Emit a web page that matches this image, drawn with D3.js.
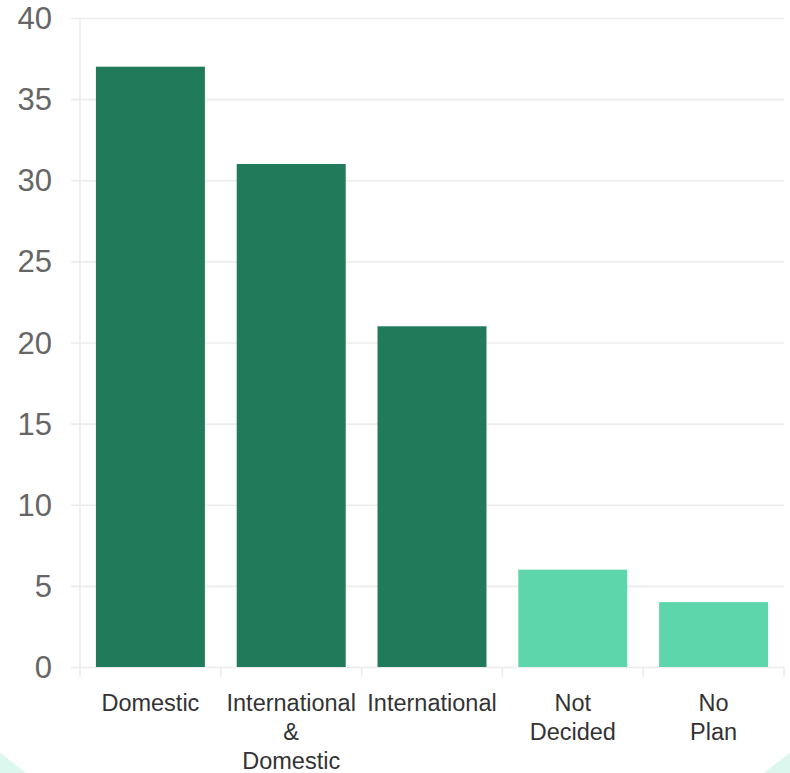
<!DOCTYPE html>
<html>
<head>
<meta charset="utf-8">
<script src="https://cdn.jsdelivr.net/npm/d3@7"></script>
<style>
  html, body { margin: 0; padding: 0; background: #ffffff; }
  svg { display: block; }
</style>
</head>
<body>
<script>
// Travel plans survey: number of respondents per plan type
const categories = ["Domestic", "International & Domestic", "International", "Not Decided", "No Plan"];
const labelLines = [["Domestic"], ["International", "&", "Domestic"], ["International"], ["Not", "Decided"], ["No", "Plan"]];
const values = [37, 31, 21, 6, 4];
const barColors = ["#217a5a", "#217a5a", "#217a5a", "#5cd6aa", "#5cd6aa"];
const yTicks = [0, 5, 10, 15, 20, 25, 30, 35, 40];

const W = 790, H = 773;
const plotLeft = 80, plotRight = 784, plotTop = 18, plotBottom = 667;

const svg = d3.select("body").append("svg")
  .attr("width", W).attr("height", H);

// page backdrop: mint corners behind a large white disc
svg.append("rect").attr("width", W).attr("height", H).attr("fill", "#dcf7ee");
svg.append("circle").attr("cx", 395).attr("cy", 272).attr("r", 622).attr("fill", "#ffffff");

const x = d3.scaleBand()
  .domain(categories)
  .range([plotLeft, plotRight])
  .paddingInner(0.226)
  .paddingOuter(0.113);

const y = d3.scaleLinear().domain([0, 40]).range([plotBottom, plotTop]);

const gridColor = "#ececec";

// horizontal grid lines with short tick stubs on the left
const yAxis = d3.axisLeft(y)
  .tickValues(yTicks)
  .tickSize(0)
  .tickPadding(19)
  .tickFormat(d3.format("d"));

const gy = svg.append("g")
  .attr("transform", `translate(${plotLeft - 9},0)`)
  .call(yAxis);
gy.select(".domain").remove();
gy.selectAll(".tick line")
  .attr("x1", 0)
  .attr("x2", plotRight - plotLeft + 9)
  .attr("stroke", gridColor)
  .attr("stroke-width", 1.6);
gy.selectAll(".tick text")
  .attr("fill", "#666666")
  .attr("font-family", "Arial, 'Liberation Sans', sans-serif")
  .attr("font-size", 31)
  .attr("x", -19)
  .attr("dy", "0.34em");

// vertical axis line
svg.append("line")
  .attr("x1", plotLeft).attr("x2", plotLeft)
  .attr("y1", plotTop).attr("y2", plotBottom + 10)
  .attr("stroke", gridColor).attr("stroke-width", 1.6);

// category boundary ticks below the baseline
const step = x.step();
const boundaries = d3.range(categories.length + 1).map(i => plotLeft + i * step);
svg.append("g").selectAll("line")
  .data(boundaries.slice(1))
  .join("line")
  .attr("x1", d => d).attr("x2", d => d)
  .attr("y1", plotBottom).attr("y2", plotBottom + 10)
  .attr("stroke", gridColor).attr("stroke-width", 1.6);

// bars
svg.append("g").selectAll("rect")
  .data(values)
  .join("rect")
  .attr("x", (d, i) => x(categories[i]))
  .attr("y", d => y(d))
  .attr("width", x.bandwidth())
  .attr("height", d => y(0) - y(d))
  .attr("fill", (d, i) => barColors[i]);

// category labels, wrapped onto several lines
const lbl = svg.append("g")
  .attr("font-family", "Arial, 'Liberation Sans', sans-serif")
  .attr("font-size", 23.5)
  .attr("fill", "#333333")
  .attr("text-anchor", "middle");
categories.forEach((c, i) => {
  const cx = x(c) + x.bandwidth() / 2;
  const t = lbl.append("text").attr("x", cx).attr("y", 711);
  labelLines[i].forEach((line, j) => {
    t.append("tspan").attr("x", cx).attr("y", 711 + j * 29).text(line);
  });
});
</script>
</body>
</html>
